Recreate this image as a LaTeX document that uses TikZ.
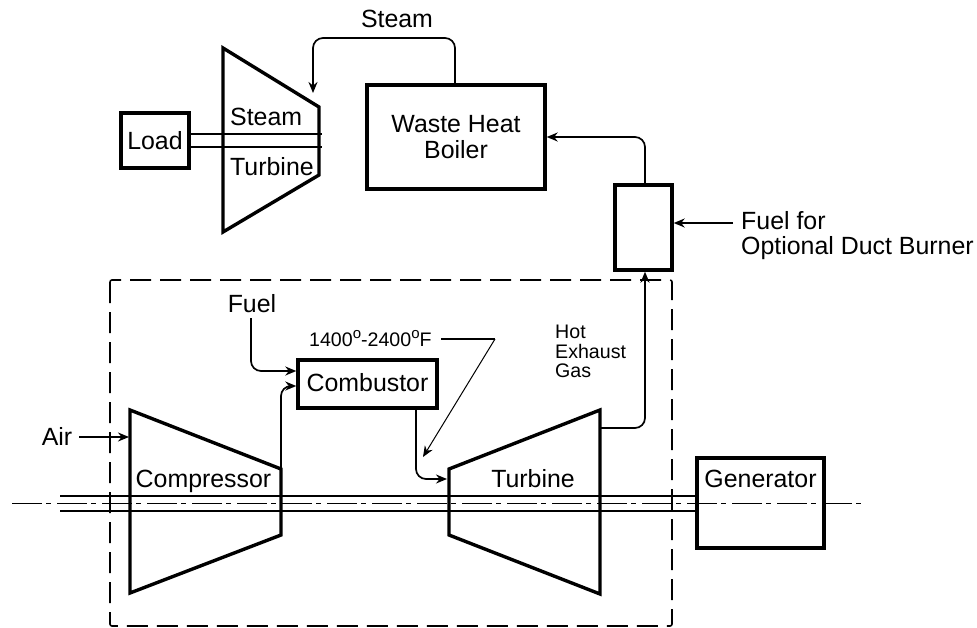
\documentclass[tikz,border=0pt]{standalone}
\usepackage{fontspec}
\setmainfont{Liberation Sans}
\usetikzlibrary{arrows.meta}
\newcommand{\dego}{\raisebox{8pt}{\fontsize{15}{15}\selectfont o}}
\tikzset{
	machine/.style = {line width=3.4pt, line join=miter},
	box/.style = {draw, line width=3.4pt, inner sep=0pt, font=\fontsize{24.9}{25.5}\selectfont},
	txt/.style = {anchor=base, inner sep=0pt, font=\fontsize{24.9}{24.9}\selectfont},
	small/.style = {anchor=base, inner sep=0pt, font=\fontsize{19.6}{19.6}\selectfont},
	shaft/.style = {line width=1.7pt},
	flow/.style = {line width=1.7pt, rounded corners=10pt, -{Stealth[length=11pt,width=9pt]}},
	casing/.style = {line width=1.6pt, dash pattern=on 21pt off 9pt, rounded corners=2pt},
	centre/.style = {line width=0.8pt, dash pattern=on 30pt off 4pt on 5pt off 6pt}
}
\begin{document}
\begin{tikzpicture}
				[x=1pt, y=-1pt]
				\useasboundingbox (0,0) rectangle (977,627);
				% boxes
				\node[box, minimum width=68pt, minimum height=55pt, text height=17.6pt, text depth=0.6pt] (load) at (155,140.5) {Load};
				\node[box, minimum width=178pt, minimum height=104pt, align=center, text height=45pt, text depth=3pt] (boiler) at (456,137) {Waste Heat\\Boiler};
				\node[box, minimum width=57pt, minimum height=85pt] (duct) at (643.5,227.5) {};
				\node[box, minimum width=139pt, minimum height=48pt, text height=17.6pt, text depth=3.6pt] (combustor) at (367.5,384) {Combustor};
				\node[box, minimum width=127pt, minimum height=90pt, text height=18pt, text depth=50pt] (generator) at (760.5,503) {Generator};
				% corners of the turbines
				\coordinate (st1) at (223,48);
				\coordinate (st2) at (319,107);
				\coordinate (st3) at (319,175);
				\coordinate (st4) at (223,232);
				\coordinate (c1) at (130,410);
				\coordinate (c2) at (281,469);
				\coordinate (c3) at (281,535);
				\coordinate (c4) at (130,593);
				\coordinate (t1) at (449,469);
				\coordinate (t2) at (600,410);
				\coordinate (t3) at (600,594);
				\coordinate (t4) at (449,535);
				\draw[machine] (st1)--(st2)--(st3)--(st4)--cycle;
				\draw[machine] (c1)--(c2)--(c3)--(c4)--cycle;
				\draw[machine] (t1)--(t2)--(t3)--(t4)--cycle;
				% shafts
				\coordinate (sa) at (322,134);
				\coordinate (sb) at (322,147);
				\draw[shaft] (load.east |- sa)--(sa);
				\draw[shaft] (load.east |- sb)--(sb);
				\coordinate (ga) at (60,496);
				\coordinate (gb) at (60,511);
				\draw[shaft] (ga)--(generator.west |- ga);
				\draw[shaft] (gb)--(generator.west |- gb);
				\coordinate (cl0) at (12,503.5);
				\coordinate (cl1) at (863,503.5);
				\draw[centre] (cl0)--(cl1);
				\draw[casing] (110,280) rectangle (672,626);
				% labels
				\node[txt] (steamtop) at (397,27) {Steam};
				\node[txt, anchor=base west] (steamst) at (230,125) {Steam};
				\node[txt, anchor=base west] (turbst) at (230,175) {Turbine};
				\node[txt] (compressor) at (203.5,487) {Compressor};
				\node[txt] (turbine) at (533,487) {Turbine};
				\node[txt] (fuel) at (252,312) {Fuel};
				\node[txt] (air) at (57,445) {Air};
				\node[txt, anchor=base west] (fuelfor) at (741,229) {Fuel for};
				\node[txt, anchor=base west] (optional) at (741,254) {Optional Duct Burner};
				\node[small, anchor=base west] (hot) at (555,338) {Hot};
				\node[small, anchor=base west] (exhaust) at (555,358) {Exhaust};
				\node[small, anchor=base west] (gas) at (555,377) {Gas};
				\node[small, anchor=base west] (temp) at (309,346) {1400\dego-2400\dego F};
				% connectors
				\coordinate (steamin) at (313,93);
				\coordinate (steamup) at (455,38);
				\draw[flow] (steamup |- boiler.north)--(steamup)-|(steamin);
				\coordinate (ductout) at (645,137);
				\draw[flow] (ductout |- duct.north)--(ductout)--(boiler.east |- ductout);
				\coordinate (fuelin) at (733,223);
				\draw[flow] (fuelin)--(duct.east |- fuelin);
				\coordinate (gasout) at (645,428);
				\draw[flow] (t2 |- gasout)--(gasout)--(gasout |- duct.south);
				\coordinate (fuelstart) at (251,318);
				\coordinate (fuelend) at (251,371);
				\draw[flow] (fuelstart)--(fuelend)--(combustor.west |- fuelend);
				\coordinate (airend) at (281,386);
				\draw[flow] (c2)--(airend)--(combustor.west |- airend);
				\coordinate (combout) at (416,479);
				\coordinate (turbin) at (447,479);
				\draw[flow] (combustor.south -| combout)--(combout)--(turbin);
				\coordinate (airstart) at (79,437);
				\coordinate (airtip) at (129,437);
				\draw[flow] (airstart)--(airtip);
				\coordinate (tempa) at (441,339);
				\coordinate (tempb) at (495,339);
				\coordinate (temptip) at (423,457);
				\draw[line width=1.7pt] (tempa)--(tempb);
				\draw[line width=1pt, -{Stealth[length=11pt,width=9pt]}] (tempb)--(temptip);
			\end{tikzpicture}
\end{document}
